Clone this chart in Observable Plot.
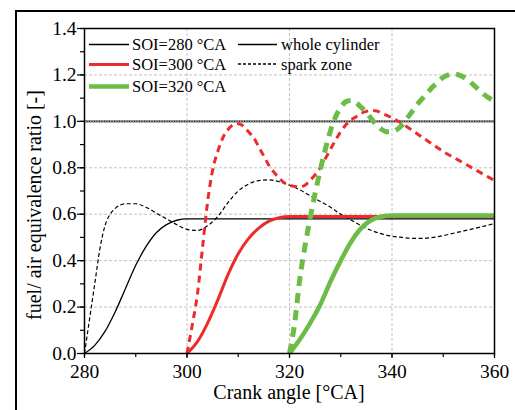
<!DOCTYPE html>
<html>
<head>
<meta charset="utf-8">
<script src="https://cdn.jsdelivr.net/npm/d3@7"></script>
<script src="https://cdn.jsdelivr.net/npm/@observablehq/plot@0.6"></script>
<style>
  html, body { margin: 0; padding: 0; background: #fff; width: 515px; height: 410px; overflow: hidden; }
  #wrap { position: relative; width: 515px; height: 410px; }
  #outer { position: absolute; left: 15px; top: 10px; width: 600px; height: 500px; border-left: 2px solid #000; border-top: 2px solid #000; box-sizing: border-box; }
  #chart { position: absolute; left: 0; top: 0; }
  .title { position: absolute; color: #000; white-space: nowrap; font-family: 'Liberation Serif'; font-size: 20px; }
  #legend { position: absolute; left: 0; top: 0; width: 515px; height: 410px; pointer-events: none; }
</style>
</head>
<body>
<div id="wrap">
  <div id="outer"></div>
  <div id="chart"></div>
  <div class="title" style="left:289px;top:392px;transform:translate(-50%,-50%)">Crank angle [°CA]</div>
  <div class="title" style="left:34px;top:205px;transform:translate(-50%,-50%) rotate(-90deg)">fuel/ air equivalence ratio [-]</div>
  <svg id="legend" width="515" height="410"></svg>
</div>
<script>
// ---- Data ----
const soi280WholeAngle = [280,282,284,286,288,290,292,294,296,298,300,310,320,330,340,350,360];
const soi280WholeValue = [0,0.035,0.095,0.18,0.28,0.38,0.46,0.52,0.555,0.574,0.58,0.58,0.58,0.58,0.58,0.58,0.58];

const soi280SparkAngle = [280,281,282,283,284,285,286,288,290,292,294,296,298,300,302,304,306,308,310,312,314,316,318,320,322,324,326,328,330,332,334,336,338,340,342,344,346,348,350,352,354,356,358,360];
const soi280SparkValue = [0,0.15,0.3,0.45,0.55,0.6,0.625,0.645,0.645,0.63,0.605,0.58,0.555,0.535,0.53,0.55,0.59,0.65,0.7,0.73,0.745,0.748,0.74,0.725,0.705,0.68,0.655,0.63,0.6,0.575,0.55,0.53,0.515,0.505,0.5,0.496,0.496,0.5,0.508,0.518,0.528,0.538,0.549,0.56];

const soi300WholeAngle = [300,302,304,306,308,310,312,314,316,318,320,330,340,350,360];
const soi300WholeValue = [0,0.05,0.13,0.23,0.34,0.43,0.495,0.54,0.57,0.585,0.59,0.59,0.59,0.59,0.59];

const soi300SparkAngle = [300,301,302,303,304,305,306,307,308,309,310,311,312,313,314,315,316,317,318,319,320,321,322,323,324,325,326,327,328,329,330,331,332,333,334,335,336,337,338,340,342,344,346,348,350,352,354,356,358,360];
const soi300SparkValue = [0,0.12,0.25,0.45,0.65,0.79,0.87,0.93,0.965,0.985,0.99,0.98,0.955,0.93,0.89,0.85,0.81,0.78,0.755,0.735,0.725,0.72,0.718,0.725,0.745,0.77,0.8,0.84,0.88,0.92,0.955,0.985,1.005,1.02,1.035,1.043,1.047,1.045,1.035,1.015,0.99,0.96,0.93,0.9,0.87,0.845,0.82,0.795,0.77,0.745];

const soi320WholeAngle = [320,322,324,326,328,330,332,334,336,338,340,350,360];
const soi320WholeValue = [0,0.06,0.13,0.21,0.31,0.4,0.48,0.54,0.575,0.59,0.595,0.595,0.595];

const soi320SparkAngle = [320,321,322,323,324,325,326,327,328,329,330,331,332,333,334,335,336,337,338,339,340,341,342,343,344,345,346,347,348,349,350,351,352,353,354,355,356,357,358,359,360];
const soi320SparkValue = [0,0.13,0.32,0.46,0.58,0.69,0.79,0.88,0.96,1.02,1.06,1.085,1.09,1.08,1.06,1.04,1.01,0.985,0.965,0.955,0.955,0.965,0.985,1.015,1.045,1.075,1.1,1.125,1.15,1.17,1.19,1.2,1.205,1.2,1.19,1.175,1.155,1.135,1.115,1.1,1.085];

const xTicks = [280,300,320,340,360];
const yTicks = [0,0.2,0.4,0.6,0.8,1.0,1.2,1.4];
const referenceLevel = [1.0];

const legendSoi = ["SOI=280 °CA","SOI=300 °CA","SOI=320 °CA"];
const legendZone = ["whole cylinder","spark zone"];

// ---- Styles ----
const C_BLACK = "#000000", C_RED = "#ee2b2b", C_GREEN = "#6bbd47";
const SERIF = "Liberation Serif";

const toRows = (xs, ys) => xs.map((x, i) => ({x, y: ys[i]}));

const series = [
  {rows: toRows(soi280WholeAngle, soi280WholeValue), stroke: C_BLACK, w: 1.3, dash: null},
  {rows: toRows(soi280SparkAngle, soi280SparkValue), stroke: C_BLACK, w: 1.2, dash: "4,2.5"},
  {rows: toRows(soi300WholeAngle, soi300WholeValue), stroke: C_RED, w: 3, dash: null},
  {rows: toRows(soi300SparkAngle, soi300SparkValue), stroke: C_RED, w: 3, dash: "7,5"},
  {rows: toRows(soi320WholeAngle, soi320WholeValue), stroke: C_GREEN, w: 4.5, dash: null},
  {rows: toRows(soi320SparkAngle, soi320SparkValue), stroke: C_GREEN, w: 5, dash: "10,7"}
];

const minorX = d3.range(280, 361, 10);
const minorY = d3.range(0, 1.41, 0.1);

const chart = Plot.plot({
  width: 515,
  height: 410,
  marginLeft: 84,
  marginRight: 21,
  marginTop: 28,
  marginBottom: 57,
  style: {fontFamily: SERIF, fontSize: "19.5px", color: "#000", background: "transparent"},
  x: {domain: [280, 360]},
  y: {domain: [0, 1.4]},
  marks: [
    Plot.gridX(xTicks.slice(1, -1), {stroke: "#bbb", strokeOpacity: 1, strokeDasharray: "3,2", strokeWidth: 0.9}),
    Plot.gridY(yTicks.slice(1, -1), {stroke: "#bbb", strokeOpacity: 1, strokeDasharray: "3,2", strokeWidth: 0.9}),
    Plot.ruleY(referenceLevel, {stroke: "#9a9a9a", strokeWidth: 2.6}),
    Plot.ruleY(referenceLevel, {stroke: "#000", strokeWidth: 1, strokeDasharray: "1,1.5"}),
    ...series.map(s => Plot.line(s.rows, {x: "x", y: "y", stroke: s.stroke, strokeWidth: s.w, strokeDasharray: s.dash, curve: "monotone-x", strokeLinecap: "butt", strokeLinejoin: "round"})),
    Plot.axisX(minorX, {tickSize: 4, text: null, label: null, strokeWidth: 1.2}),
    Plot.axisX(xTicks, {tickSize: 5, tickPadding: 6, tickFormat: d => String(d), label: null, fontSize: 19.5, fontFamily: SERIF, strokeWidth: 1.2}),
    Plot.axisY(minorY, {tickSize: 4, text: null, label: null, strokeWidth: 1.2}),
    Plot.axisY(yTicks, {tickSize: 7, tickPadding: 1, tickFormat: d3.format(".1f"), label: null, fontSize: 19.5, fontFamily: SERIF, strokeWidth: 1.2}),
    Plot.frame({stroke: "#000", strokeWidth: 1.5})
  ]
});
document.getElementById("chart").appendChild(chart);

// ---- Legend ----
const lg = d3.select("#legend");
const soiStyles = [
  {stroke: C_BLACK, w: 1.5},
  {stroke: C_RED, w: 3.2},
  {stroke: C_GREEN, w: 4.5}
];
const soiRowY = [44.5, 64.5, 86.5];
legendSoi.forEach((t, i) => {
  lg.append("line").attr("x1", 89).attr("x2", 129).attr("y1", soiRowY[i]).attr("y2", soiRowY[i])
    .attr("stroke", soiStyles[i].stroke).attr("stroke-width", soiStyles[i].w);
  lg.append("text").attr("x", 132).attr("y", soiRowY[i]).attr("dy", "0.35em")
    .attr("font-family", SERIF).attr("font-size", 16.5).text(t);
});
const zoneRowY = [44.5, 64];
const zoneDash = [null, "3,2"];
legendZone.forEach((t, i) => {
  lg.append("line").attr("x1", 238).attr("x2", 277).attr("y1", zoneRowY[i]).attr("y2", zoneRowY[i])
    .attr("stroke", "#000").attr("stroke-width", 1.4).attr("stroke-dasharray", zoneDash[i]);
  lg.append("text").attr("x", 281).attr("y", zoneRowY[i]).attr("dy", "0.35em")
    .attr("font-family", SERIF).attr("font-size", 16.5).text(t);
});
</script>
</body>
</html>
